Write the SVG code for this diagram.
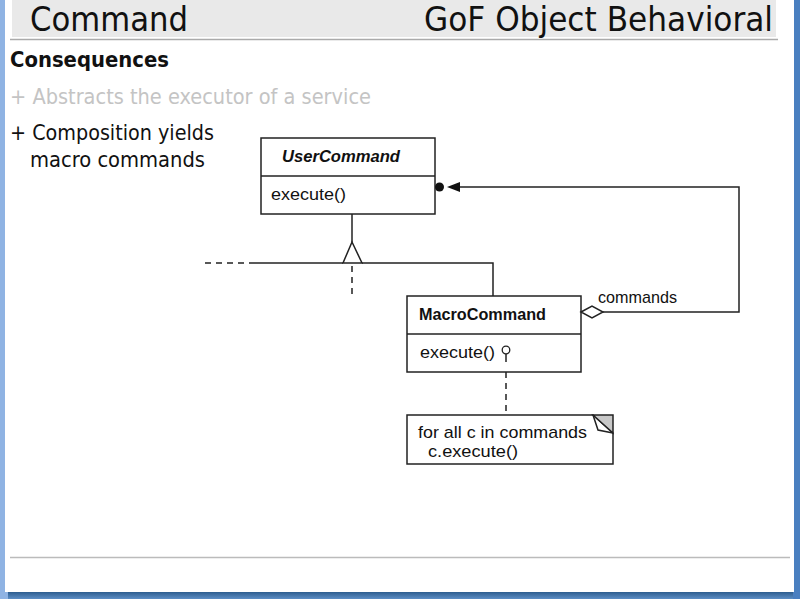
<svg xmlns="http://www.w3.org/2000/svg" width="800" height="599" viewBox="0 0 800 599">
<defs>
<style>
.hdr{font-family:"DejaVu Sans Condensed","DejaVu Sans",sans-serif;font-size:33px;fill:#111}
.tx{font-family:"DejaVu Sans Condensed","DejaVu Sans",sans-serif;font-size:21px;fill:#111}
.uml{font-family:"Liberation Sans",Arial,sans-serif;font-size:17px;fill:#111}
.box{fill:#fff;stroke:#222;stroke-width:1.5}
.ln{fill:none;stroke:#222;stroke-width:1.5}
.dash{fill:none;stroke:#222;stroke-width:1.5;stroke-dasharray:6,5}
</style>
<linearGradient id="sh" x1="0" y1="0" x2="0" y2="1">
<stop offset="0" stop-color="#2d5d8f"/><stop offset="1" stop-color="#5d8ec5"/>
</linearGradient>
</defs>
<rect x="0" y="0" width="800" height="599" fill="#8fb3e3"/>
<rect x="8" y="592" width="792" height="7" fill="url(#sh)"/>
<rect x="793" y="0" width="7" height="599" fill="#4a7fc0"/>
<rect x="5" y="0" width="789" height="592" fill="#fff"/>
<rect x="12" y="0" width="764" height="37" fill="#e9e9e9"/>
<line x1="10" y1="39.5" x2="778" y2="39.5" stroke="#aaa" stroke-width="1.5"/>
<text class="hdr" x="30" y="31" textLength="158" lengthAdjust="spacingAndGlyphs">Command</text>
<text class="hdr" x="424" y="31" textLength="349" lengthAdjust="spacingAndGlyphs">GoF Object Behavioral</text>
<text class="tx" x="10" y="67" font-weight="bold" textLength="159" lengthAdjust="spacingAndGlyphs">Consequences</text>
<text class="tx" x="10" y="104" style="fill:#c4c4c4" textLength="361" lengthAdjust="spacingAndGlyphs">+ Abstracts the executor of a service</text>
<text class="tx" x="10" y="140" textLength="204" lengthAdjust="spacingAndGlyphs">+ Composition yields</text>
<text class="tx" x="30" y="167" textLength="175" lengthAdjust="spacingAndGlyphs">macro commands</text>
<line x1="10" y1="557.5" x2="790" y2="557.5" stroke="#bbb" stroke-width="1.5"/>

<g id="UserCommand">
<rect class="box" x="261" y="138" width="174" height="76"/>
<line class="ln" x1="261" y1="176" x2="435" y2="176"/>
<text class="uml" x="282" y="162" font-weight="bold" font-style="italic" textLength="118" lengthAdjust="spacingAndGlyphs">UserCommand</text>
<text class="uml" x="271" y="200" textLength="75" lengthAdjust="spacingAndGlyphs">execute()</text>
</g>

<g id="MacroCommand">
<rect class="box" x="407" y="296" width="174" height="76"/>
<line class="ln" x1="407" y1="334" x2="581" y2="334"/>
<text class="uml" x="419" y="320" font-weight="bold" textLength="127" lengthAdjust="spacingAndGlyphs">MacroCommand</text>
<text class="uml" x="420" y="358" textLength="75" lengthAdjust="spacingAndGlyphs">execute()</text>
</g>

<g id="note">
<polygon class="box" points="407,415 593,415 613,433 613,464 407,464"/>
<polygon points="593,415 613,415 613,433" fill="#c8c8c8" stroke="#222" stroke-width="1.5"/>
<polyline class="ln" points="593,415 598,430 613,433"/>
<text class="uml" x="418" y="438" textLength="169" lengthAdjust="spacingAndGlyphs">for all c in commands</text>
<text class="uml" x="428" y="457" textLength="90" lengthAdjust="spacingAndGlyphs">c.execute()</text>
</g>

<g id="connectors">
<line class="ln" x1="352" y1="214" x2="352" y2="242"/>
<polygon class="box" points="352,242 343,263 362,263"/>
<line class="ln" x1="250" y1="263" x2="343" y2="263"/>
<polyline class="ln" points="362,263 493,263 493,296"/>
<line class="dash" x1="205" y1="263" x2="250" y2="263"/>
<line class="dash" x1="352" y1="266" x2="352" y2="298"/>
<polygon class="box" points="581,312 592,306 603,312 592,318"/>
<polyline class="ln" points="603,312 739,312 739,187 460,187"/>
<polygon points="447,187 460,182 460,192" fill="#111"/>
<circle cx="439.5" cy="187" r="4.5" fill="#111"/>
<text class="uml" x="598" y="303" textLength="79" lengthAdjust="spacingAndGlyphs">commands</text>
<circle cx="506" cy="350" r="3.8" fill="none" stroke="#222" stroke-width="1.3"/>
<line class="ln" x1="506" y1="354" x2="506" y2="362"/>
<line class="dash" x1="506" y1="372" x2="506" y2="415"/>
</g>
</svg>
